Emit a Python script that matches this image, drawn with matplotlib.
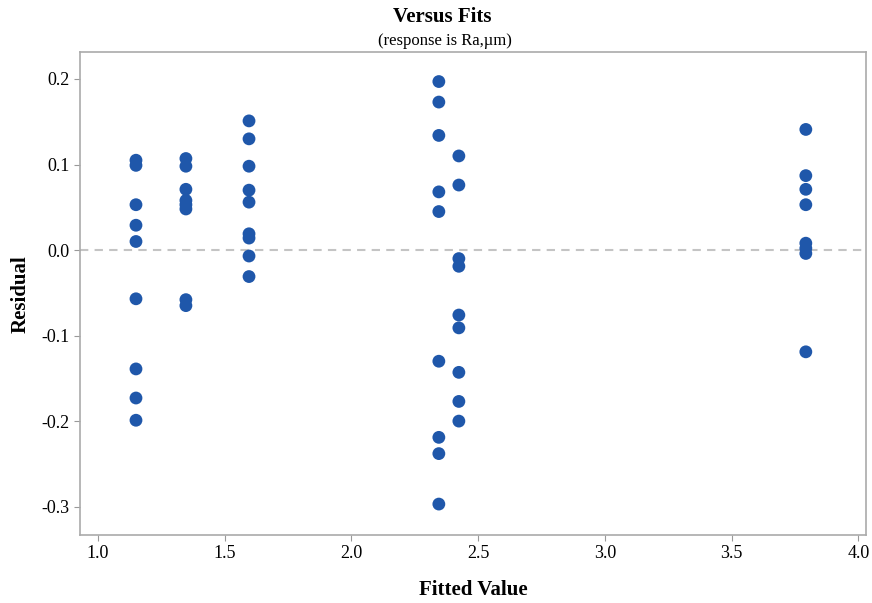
import matplotlib.pyplot as plt

plt.rcParams['font.family'] = ['Liberation Serif', 'DejaVu Serif']

# fitted values (one per group) and the residuals
fits = [1.150, 1.347, 1.596, 2.345, 2.424, 3.793]
residuals = [
    [0.105, 0.099, 0.053, 0.029, 0.010, -0.057, -0.139, -0.173, -0.199],
    [0.107, 0.098, 0.071, 0.058, 0.053, 0.048, -0.058, -0.065],
    [0.151, 0.130, 0.098, 0.070, 0.056, 0.019, 0.014, -0.007, -0.031],
    [0.197, 0.173, 0.134, 0.068, 0.045, -0.130, -0.219, -0.238, -0.297],
    [0.110, 0.076, -0.010, -0.019, -0.076, -0.091, -0.143, -0.177, -0.200],
    [0.141, 0.087, 0.071, 0.053, 0.008, 0.002, -0.004, -0.119],
]
xticks = [1.0, 1.5, 2.0, 2.5, 3.0, 3.5, 4.0]
yticks = [0.2, 0.1, 0.0, -0.1, -0.2, -0.3]

fig = plt.figure(figsize=(8.72, 6.03), dpi=100)
ax = fig.add_axes([0.092, 0.113, 0.901, 0.8])

x = []
y = []
for f, r in zip(fits, residuals):
    x += [f] * len(r)
    y += r
ax.axhline(0, color='#c4c4c4', linestyle=(0, (4, 3)), linewidth=1.5, zorder=1)
ax.scatter(x, y, s=85, color='#1f57aa', edgecolors='none', zorder=2)

ax.set_xlim(0.93, 4.03)
ax.set_ylim(-0.333, 0.231)
ax.set_xticks(xticks)
ax.set_xticklabels([f'{v:.1f}' for v in xticks])
ax.set_yticks(yticks)
ax.set_yticklabels([f'{v:.1f}' for v in yticks])
ax.tick_params(labelsize=13, color='#999999', length=4, direction='out')

for s in ax.spines.values():
    s.set_color('#aaaaaa')
    s.set_linewidth(1.2)

ax.set_xlabel('Fitted Value', fontsize=15, fontweight='bold', labelpad=13)
ax.set_ylabel('Residual', fontsize=15, fontweight='bold', labelpad=8)
fig.text(0.507, 0.963, 'Versus Fits', ha='center', fontsize=15, fontweight='bold')
fig.text(0.51, 0.925, '(response is Ra,\u00b5m)', ha='center', fontsize=12)

fig.savefig('out.png', dpi=100)
